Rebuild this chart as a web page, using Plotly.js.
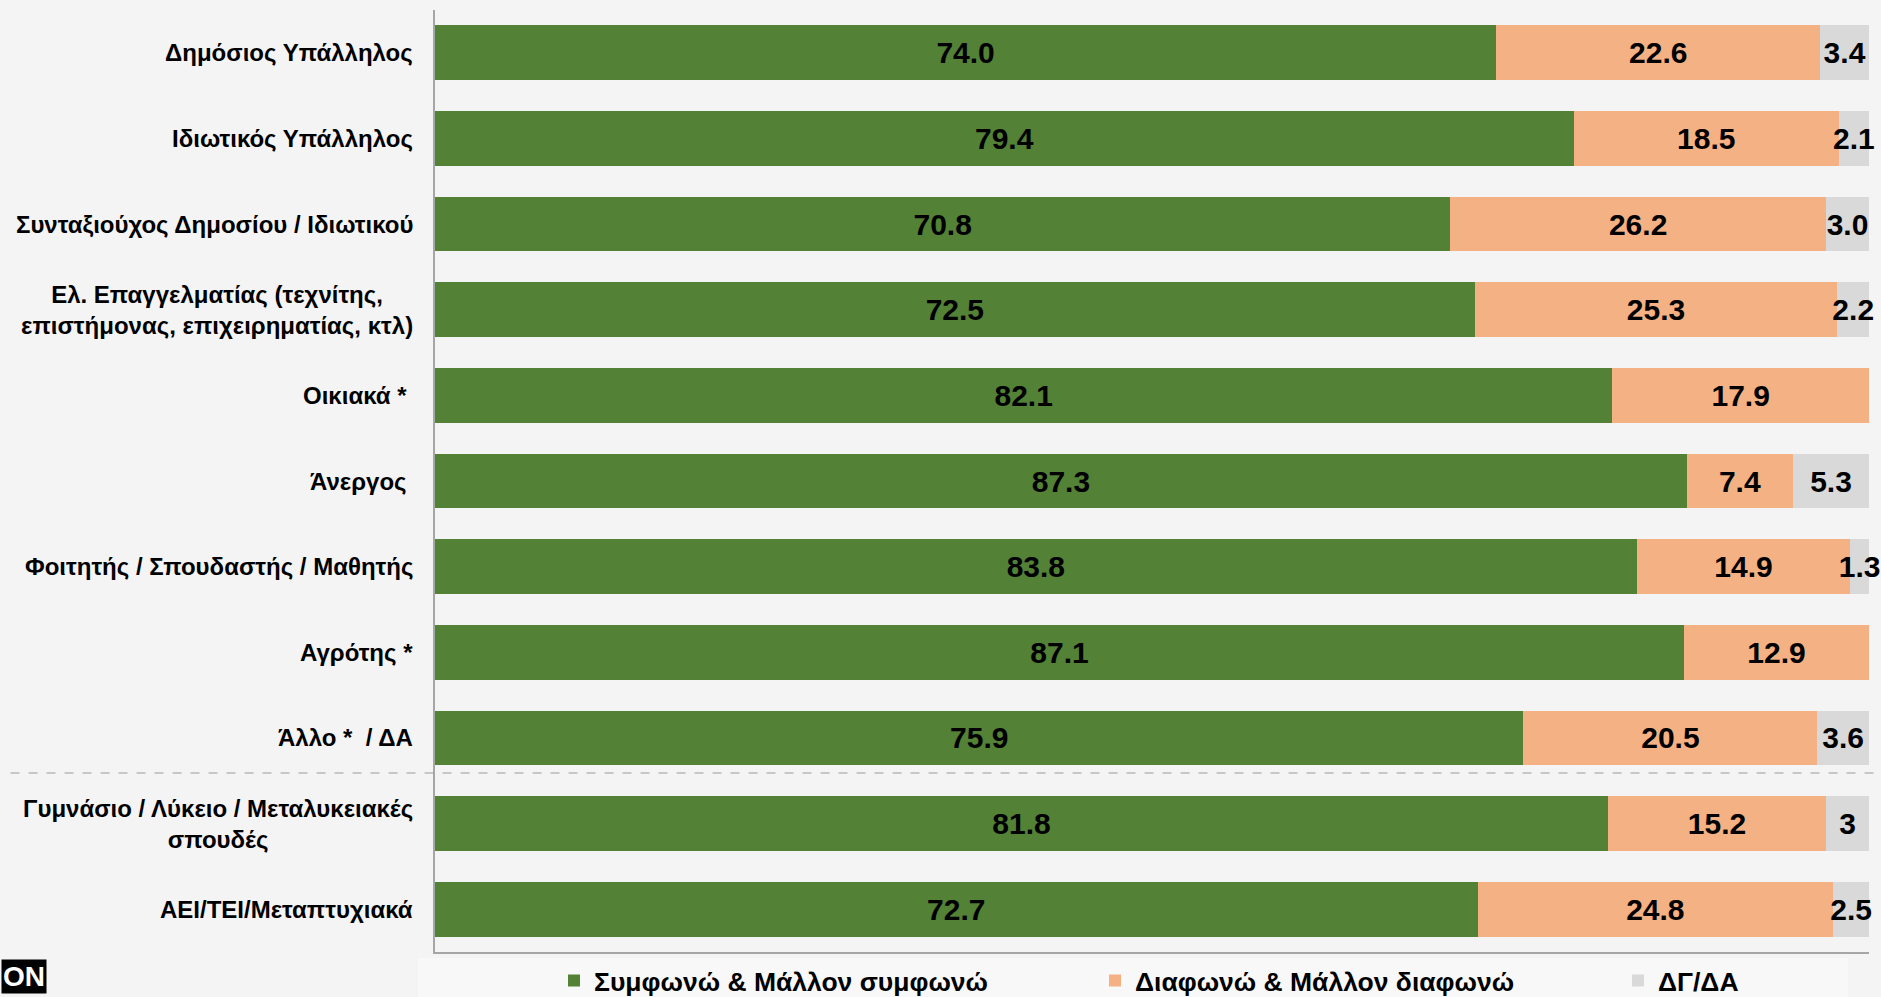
<!DOCTYPE html>
<html>
<head>
<meta charset="utf-8">
<script src="https://cdn.plot.ly/plotly-3.0.1.min.js"></script>
<style>
  html, body { margin: 0; padding: 0; background: #f4f4f4; }
  #chart { width: 1881px; height: 997px; }
</style>
</head>
<body>
<div id="chart"></div>
<script>
// ---- data ----
const categories = [
  "Δημόσιος Υπάλληλος",
  "Ιδιωτικός Υπάλληλος",
  "Συνταξιούχος Δημοσίου / Ιδιωτικού",
  "Ελ. Επαγγελματίας (τεχνίτης,<br>επιστήμονας, επιχειρηματίας, κτλ)",
  "Οικιακά *\u00a0",
  "Άνεργος\u00a0",
  "Φοιτητής / Σπουδαστής / Μαθητής",
  "Αγρότης *",
  "Άλλο *  / ΔΑ",
  "Γυμνάσιο / Λύκειο / Μεταλυκειακές<br>σπουδές",
  "ΑΕΙ/ΤΕΙ/Μεταπτυχιακά"
];
const agree    = [74.0, 79.4, 70.8, 72.5, 82.1, 87.3, 83.8, 87.1, 75.9, 81.8, 72.7];
const disagree = [22.6, 18.5, 26.2, 25.3, 17.9, 7.4, 14.9, 12.9, 20.5, 15.2, 24.8];
const dkna     = [3.4, 2.1, 3.0, 2.2, null, 5.3, 1.3, null, 3.6, 3, 2.5];
const dknaLabels = ["3.4", "2.1", "3.0", "2.2", "", "5.3", "1.3", "", "3.6", "3", "2.5"];
const seriesNames = ["Συμφωνώ & Μάλλον συμφωνώ", "Διαφωνώ & Μάλλον διαφωνώ", "ΔΓ/ΔΑ"];
const seriesColors = ["#538135", "#f4b183", "#d9d9d9"];

// ---- chart ----
const FONT = "Liberation Sans, Arial, sans-serif";
const barText = {family: FONT, size: 30, color: "#000000", weight: "bold"};

function barTrace(x, name, color, legendwidth, text) {
  const t = {
    type: "bar", orientation: "h",
    y: categories, x: x, name: name,
    marker: {color: color},
    legendwidth: legendwidth,
    textposition: "inside",
    insidetextanchor: "middle",
    textangle: 0,
    constraintext: "none",
    cliponaxis: false,
    textfont: barText,
    insidetextfont: barText,
    hoverinfo: "skip"
  };
  if (text) { t.text = text; t.texttemplate = "%{text}"; }
  else { t.texttemplate = "%{x:.1f}"; }
  return t;
}

const data = [
  barTrace(agree, seriesNames[0], seriesColors[0], 496),
  barTrace(disagree, seriesNames[1], seriesColors[1], 478),
  barTrace(dkna, seriesNames[2], seriesColors[2], 90, dknaLabels)
];

const annotations = categories.map(c => ({
  xref: "paper", yref: "y", x: 0, y: c,
  xanchor: "right", yanchor: "middle", xshift: -20,
  align: "center", showarrow: false,
  text: c,
  font: {family: FONT, size: 24, color: "#000000", weight: "bold"}
}));
annotations.push({
  xref: "paper", yref: "paper", x: -0.3026, y: -0.026,
  xanchor: "left", yanchor: "middle", showarrow: false,
  text: "ON", bgcolor: "#000000", borderpad: 1,
  font: {family: FONT, size: 28, color: "#ffffff", weight: "bold"}
});

const layout = {
  width: 1881, height: 997,
  margin: {l: 435, r: 12, t: 10, b: 45, autoexpand: false},
  paper_bgcolor: "#f4f4f4",
  plot_bgcolor: "#f4f4f4",
  barmode: "stack",
  bargap: 0.36,
  showlegend: true,
  legend: {
    orientation: "h", x: 0.083, xanchor: "left", y: -0.005, yanchor: "top",
    entrywidth: 480, entrywidthmode: "pixels",
    font: {family: FONT, size: 26.5, color: "#000000", weight: "bold"},
    bgcolor: "rgba(0,0,0,0)", traceorder: "normal"
  },
  xaxis: {
    range: [0, 100], showticklabels: false, showgrid: false, zeroline: false,
    showline: true, linecolor: "#a6a6a6", linewidth: 2, ticks: "", fixedrange: true
  },
  yaxis: {
    autorange: "reversed", showticklabels: false, showgrid: false, zeroline: false,
    showline: true, linecolor: "#a6a6a6", linewidth: 2, ticks: "", fixedrange: true
  },
  annotations: annotations,
  shapes: [
    {type: "line", xref: "paper", yref: "y", x0: -0.296, x1: 1.01, y0: 8.41, y1: 8.41,
     line: {color: "#9a9a9a", width: 1.2, dash: "dash"}},
    {type: "rect", xref: "paper", yref: "paper", x0: -0.0119, x1: 0.9854, y0: -0.0064, y1: -0.06,
     fillcolor: "#f8f8f8", line: {width: 0}, layer: "below"}
  ]
};

Plotly.newPlot("chart", data, layout, {displayModeBar: false, staticPlot: true});
</script>
</body>
</html>
